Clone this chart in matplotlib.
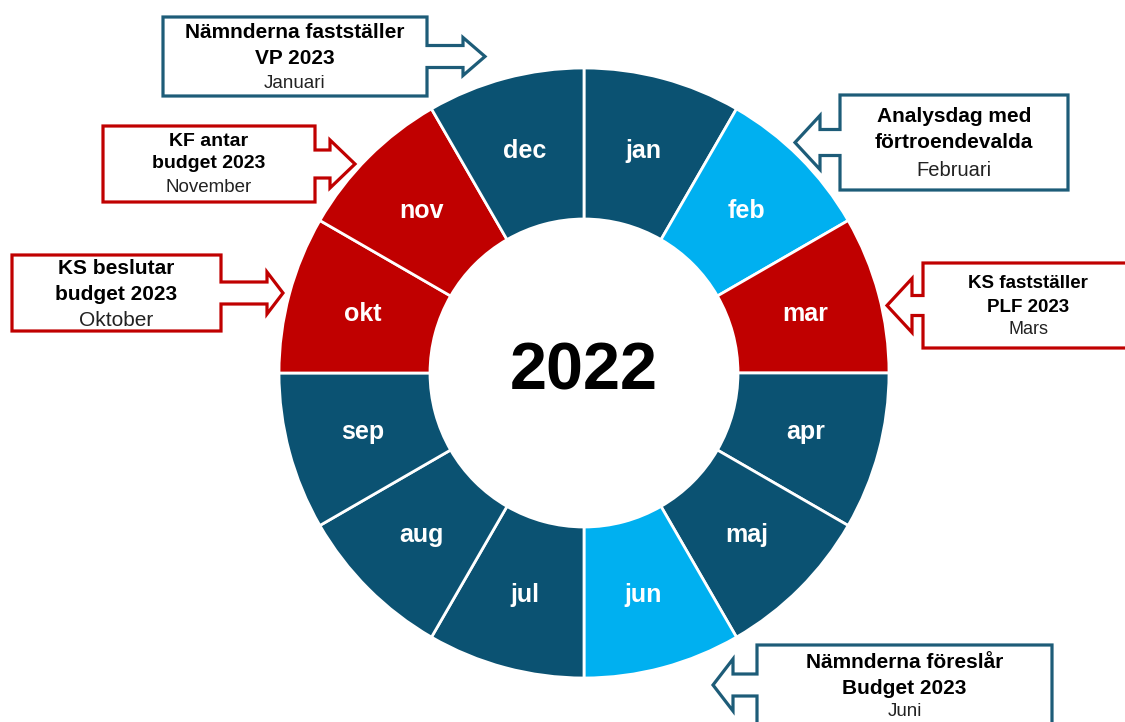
import numpy as np
import matplotlib; matplotlib.use("Agg")
import matplotlib.pyplot as plt
from matplotlib.patches import Polygon

plt.rcParams.update({"font.family": ["Liberation Sans", "DejaVu Sans"]})

DARK = "#0B5272"; LIGHT = "#00B0F0"; RED = "#C00000"
TEAL_EDGE = "#1D5C78"

months = ["jan", "feb", "mar", "apr", "maj", "jun", "jul", "aug", "sep", "okt", "nov", "dec"]
month_colors = [DARK, LIGHT, RED, DARK, DARK, LIGHT, DARK, DARK, DARK, RED, RED, DARK]
year = "2022"

# callout boxes: (bold lines, regular line, edge colour)
callout_titles = ["Nämnderna fastställer\nVP 2023", "Analysdag med\nförtroendevalda",
                  "KS fastställer\nPLF 2023", "Nämnderna föreslår\nBudget 2023",
                  "KS beslutar\nbudget 2023", "KF antar\nbudget 2023"]
callout_months = ["Januari", "Februari", "Mars", "Juni", "Oktober", "November"]
callout_colors = [TEAL_EDGE, TEAL_EDGE, RED, TEAL_EDGE, RED, RED]

# layout (pixels): rect x0,y0,x1,y1, arrow side, neck len, neck half-h, head len, head half-h, font sizes, line y's
layout = [
    (163, 17, 427, 96, "right", 36, 11, 22, 19, (15, 13.5), (32, 58, 83)),
    (840, 95, 1068, 190, "left", 20, 13, 25, 27, (15, 14.5), (117, 143, 170)),
    (923, 263, 1140, 348, "left", 11, 10, 25, 27, (13.5, 13), (283, 307, 330)),
    (757, 645, 1052, 725, "left", 24, 11, 20, 26, (15, 13.5), (662, 688, 712)),
    (12, 255, 221, 331, "right", 46, 11, 16, 21, (15, 15), (268, 295, 320)),
    (103, 126, 315, 202, "right", 15, 14, 25, 24, (14, 13.5), (141, 164, 187)),
]

W, H = 1125, 722
fig = plt.figure(figsize=(W / 100, H / 100), dpi=100)
ax = fig.add_axes([0, 0, 1, 1])

cx, cy = 584, 373
r_out, r_in = 305, 154
ax.pie([1] * len(months), colors=month_colors, startangle=270, counterclock=True,
       radius=r_out, center=(cx, cy), frame=True,
       wedgeprops=dict(width=r_out - r_in, edgecolor="white", linewidth=2))

n = len(months)
r_lab = (r_out + r_in) / 2
for i, m in enumerate(months):
    ang = np.deg2rad(270 + (i + 0.5) * 360 / n)
    ax.text(cx + r_lab * np.cos(ang), cy + r_lab * np.sin(ang), m, color="white",
            fontsize=18, fontweight="bold", ha="center", va="center")

ax.text(cx, cy, year, fontsize=48, fontweight="bold", ha="center", va="center")


def callout(x0, y0, x1, y1, side, nl, nh, hl, hh, col):
    c = (y0 + y1) / 2
    if side == "right":
        pts = [(x0, y0), (x1, y0), (x1, c - nh), (x1 + nl, c - nh), (x1 + nl, c - hh),
               (x1 + nl + hl, c), (x1 + nl, c + hh), (x1 + nl, c + nh), (x1, c + nh),
               (x1, y1), (x0, y1)]
    else:
        pts = [(x1, y0), (x0, y0), (x0, c - nh), (x0 - nl, c - nh), (x0 - nl, c - hh),
               (x0 - nl - hl, c), (x0 - nl, c + hh), (x0 - nl, c + nh), (x0, c + nh),
               (x0, y1), (x1, y1)]
    ax.add_patch(Polygon(pts, closed=True, facecolor="white", edgecolor=col,
                         linewidth=2.3, joinstyle="miter", zorder=3))


for title, mon, col, lay in zip(callout_titles, callout_months, callout_colors, layout):
    x0, y0, x1, y1, side, nl, nh, hl, hh, (fb, fr), ys = lay
    callout(x0, y0, x1, y1, side, nl, nh, hl, hh, col)
    xc = (x0 + x1) / 2 if x1 <= W else (x0 + 1133) / 2
    l1, l2 = title.split("\n")
    ax.text(xc, ys[0], l1, fontsize=fb, fontweight="bold", ha="center", va="center", zorder=4)
    ax.text(xc, ys[1], l2, fontsize=fb, fontweight="bold", ha="center", va="center", zorder=4)
    ax.text(xc, ys[2], mon, fontsize=fr, color="#222222", ha="center", va="center", zorder=4)

ax.set_xlim(0, W)
ax.set_ylim(H, 0)
ax.set_aspect("auto")
ax.axis("off")
fig.savefig("out.png", dpi=100)
